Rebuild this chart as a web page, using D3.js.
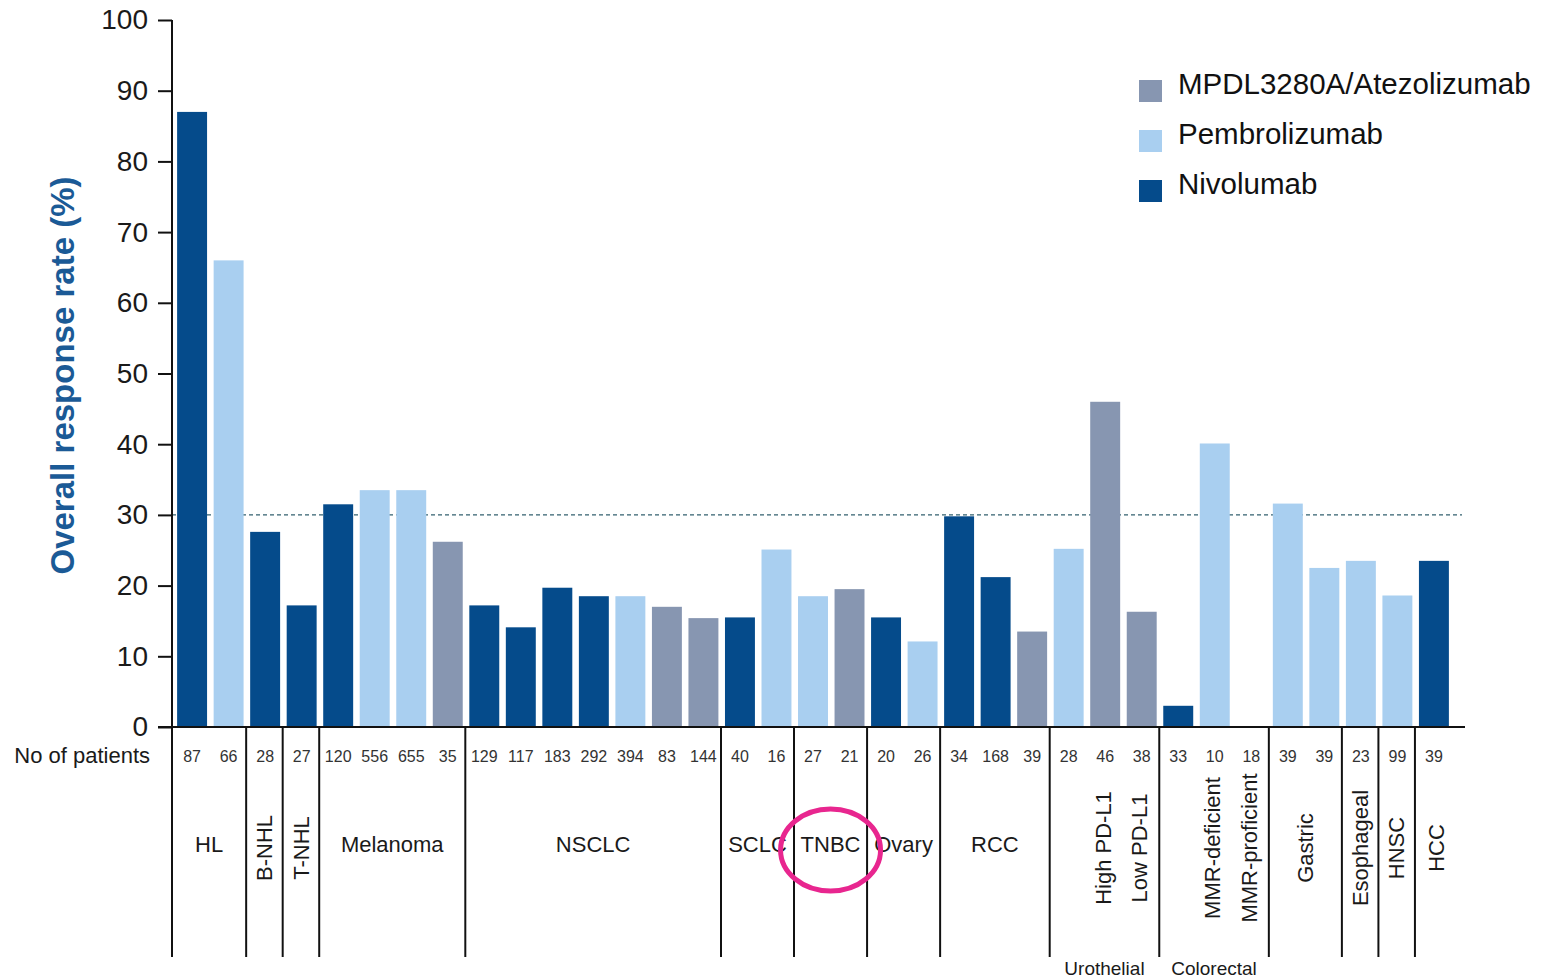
<!DOCTYPE html>
<html>
<head>
<meta charset="utf-8">
<script src="https://cdn.jsdelivr.net/npm/d3@7"></script>
<style>
  body { margin: 0; background: #fff; }
  svg { display: block; font-family: "Liberation Sans", Arial, sans-serif; }
</style>
</head>
<body>
<div class="js-vis"></div>
<script>
// tumour groups and how many bars each one holds
const groups = ['HL', 'B-NHL', 'T-NHL', 'Melanoma', 'NSCLC', 'SCLC', 'TNBC', 'Ovary', 'RCC',
                'Urothelial', 'Colorectal', 'Gastric', 'Esophageal', 'HNSC', 'HCC']
const groupSizes = [2, 1, 1, 4, 7, 2, 2, 2, 3, 3, 3, 2, 1, 1, 1]

// one entry per bar
const drugs = ['N', 'P', 'N', 'N', 'N', 'P', 'P', 'A',
               'N', 'N', 'N', 'N', 'P', 'A', 'A',
               'N', 'P', 'P', 'A', 'N', 'P', 'N', 'N', 'A',
               'P', 'A', 'A', 'N', 'P', 'P',
               'P', 'P', 'P', 'P', 'N']
const orr = [87, 66, 27.6, 17.2, 31.5, 33.5, 33.5, 26.2,
             17.2, 14.1, 19.7, 18.5, 18.5, 17, 15.4,
             15.5, 25.1, 18.5, 19.5, 15.5, 12.1, 29.8, 21.2, 13.5,
             25.2, 46, 16.3, 3, 40.1, 0,
             31.6, 22.5, 23.5, 18.6, 23.5]
const patients = [87, 66, 28, 27, 120, 556, 655, 35,
                  129, 117, 183, 292, 394, 83, 144,
                  40, 16, 27, 21, 20, 26, 34, 168, 39,
                  28, 46, 38, 33, 10, 18,
                  39, 39, 23, 99, 39]
const subLabels = ['', '', '', '', '', '', '', '',
                   '', '', '', '', '', '', '',
                   '', '', '', '', '', '', '', '', '',
                   '', 'High PD-L1', 'Low PD-L1', '', 'MMR-deficient', 'MMR-proficient',
                   '', '', '', '', '']

const legendKeys = ['A', 'P', 'N']
const legendNames = ['MPDL3280A/Atezolizumab', 'Pembrolizumab', 'Nivolumab']
const yTicks = [0, 10, 20, 30, 40, 50, 60, 70, 80, 90, 100]
const refLine = 30

const rotatedGroups = ['B-NHL', 'T-NHL', 'Gastric', 'Esophageal', 'HNSC', 'HCC']
const footGroups = ['Urothelial', 'Colorectal']

const color = d3.scaleOrdinal()
  .domain(['N', 'P', 'A'])
  .range(['#054b8b', '#a9cff0', '#8796b1'])

const W = 1541, H = 978
const x0 = 172, xEnd = 1465, y0 = 727, sepBottom = 957

const svg = d3.select('.js-vis').append('svg')
    .attr('width', W)
    .attr('height', H)

const x = d3.scaleBand()
  .domain(d3.range(orr.length))
  .range([x0, 1454])
  .paddingInner(0.18)
  .paddingOuter(0.14)

const y = d3.scaleLinear()
  .domain([0, 100])
  .range([y0, 20])

// dashed 30% reference line, behind the bars
svg.append('line')
    .attr('x1', x0).attr('x2', 1462)
    .attr('y1', y(refLine)).attr('y2', y(refLine))
    .attr('stroke', '#33606f')
    .attr('stroke-width', 1.2)
    .attr('stroke-dasharray', '4,3')

svg.append('g').selectAll('rect')
  .data(orr)
.enter().append('rect')
    .attr('x', (d, i) => x(i))
    .attr('width', x.bandwidth())
    .attr('y', d => y(d))
    .attr('height', d => y(0) - y(d))
    .attr('fill', (d, i) => color(drugs[i]))

// y axis
const yax = d3.axisLeft(y).tickValues(yTicks).tickSize(14).tickPadding(10)
const yg = svg.append('g')
    .attr('transform', 'translate(' + x0 + ',0)')
    .call(yax)
yg.select('.domain').remove()
yg.selectAll('.tick line').attr('stroke', '#111').attr('stroke-width', 2)
yg.selectAll('.tick text')
    .attr('font-size', 28)
    .attr('fill', '#1a1a1a')
    .style('font-family', '"Liberation Sans", Arial, sans-serif')

svg.append('line')
    .attr('x1', x0).attr('x2', x0)
    .attr('y1', y(100)).attr('y2', sepBottom)
    .attr('stroke', '#111').attr('stroke-width', 2)

svg.append('line')
    .attr('x1', x0 - 14).attr('x2', xEnd)
    .attr('y1', y0).attr('y2', y0)
    .attr('stroke', '#111').attr('stroke-width', 2)

svg.append('text')
    .attr('transform', 'translate(74,' + ((y(0) + y(100)) / 2 + 2) + ') rotate(-90)')
    .attr('text-anchor', 'middle')
    .attr('font-size', 33)
    .attr('font-weight', 'bold')
    .attr('fill', '#1b5a96')
    .text('Overall response rate (%)')

// patient numbers
svg.append('text')
    .attr('x', 150).attr('y', 763)
    .attr('text-anchor', 'end')
    .attr('font-size', 22)
    .attr('fill', '#1a1a1a')
    .text('No of patients')

svg.append('g').selectAll('text')
  .data(patients)
.enter().append('text')
    .attr('x', (d, i) => x(i) + x.bandwidth() / 2)
    .attr('y', 762)
    .attr('text-anchor', 'middle')
    .attr('font-size', 16)
    .attr('fill', '#333')
    .text(String)

// group separators and labels
const starts = groupSizes.map((s, i) => d3.sum(groupSizes.slice(0, i)))
const sepX = i => x(i) - 4
const groupEnd = (g, gi) => gi === groups.length - 1 ? x(orr.length - 1) + x.bandwidth() + 8
                                                     : sepX(starts[gi] + groupSizes[gi])

svg.append('g').selectAll('line')
  .data(starts.slice(1))
.enter().append('line')
    .attr('x1', sepX).attr('x2', sepX)
    .attr('y1', y0).attr('y2', sepBottom)
    .attr('stroke', '#111').attr('stroke-width', 2)

groups.forEach((g, gi) => {
  const left = gi === 0 ? x0 : sepX(starts[gi])
  const cx = (left + groupEnd(g, gi)) / 2
  if (footGroups.includes(g)) {
    svg.append('text')
        .attr('x', cx).attr('y', 975)
        .attr('text-anchor', 'middle')
        .attr('font-size', 19)
        .attr('fill', '#1a1a1a')
        .text(g)
  } else if (rotatedGroups.includes(g)) {
    svg.append('text')
        .attr('transform', 'translate(' + cx + ',848) rotate(-90)')
        .attr('text-anchor', 'middle')
        .attr('dy', '0.35em')
        .attr('font-size', 22)
        .attr('fill', '#1a1a1a')
        .text(g)
  } else {
    svg.append('text')
        .attr('x', cx).attr('y', 852)
        .attr('text-anchor', 'middle')
        .attr('font-size', 22)
        .attr('fill', '#1a1a1a')
        .text(g)
  }
})

svg.append('g').selectAll('text')
  .data(subLabels.map((t, i) => ({ t: t, i: i })).filter(d => d.t))
.enter().append('text')
    .attr('transform', d => 'translate(' + (x(d.i) + x.bandwidth() / 2 - 2) + ',848) rotate(-90)')
    .attr('text-anchor', 'middle')
    .attr('dy', '0.35em')
    .attr('font-size', 22)
    .attr('fill', '#1a1a1a')
    .text(d => d.t)

// highlight ring round TNBC
const tnbc = groups.indexOf('TNBC')
svg.append('ellipse')
    .attr('cx', (sepX(starts[tnbc]) + sepX(starts[tnbc] + 2)) / 2)
    .attr('cy', 850)
    .attr('rx', 50)
    .attr('ry', 41)
    .attr('fill', 'none')
    .attr('stroke', '#e8268f')
    .attr('stroke-width', 5)

// legend
const legend = svg.append('g').selectAll('g')
  .data(legendKeys)
.enter().append('g')
    .attr('transform', (d, i) => 'translate(1139,' + (80 + i * 50) + ')')

legend.append('rect')
    .attr('width', 23).attr('height', 22)
    .attr('fill', d => color(d))

legend.append('text')
    .attr('x', 39).attr('y', 14)
    .attr('font-size', 29.5)
    .attr('fill', '#111')
    .text((d, i) => legendNames[i])
</script>
</body>
</html>
